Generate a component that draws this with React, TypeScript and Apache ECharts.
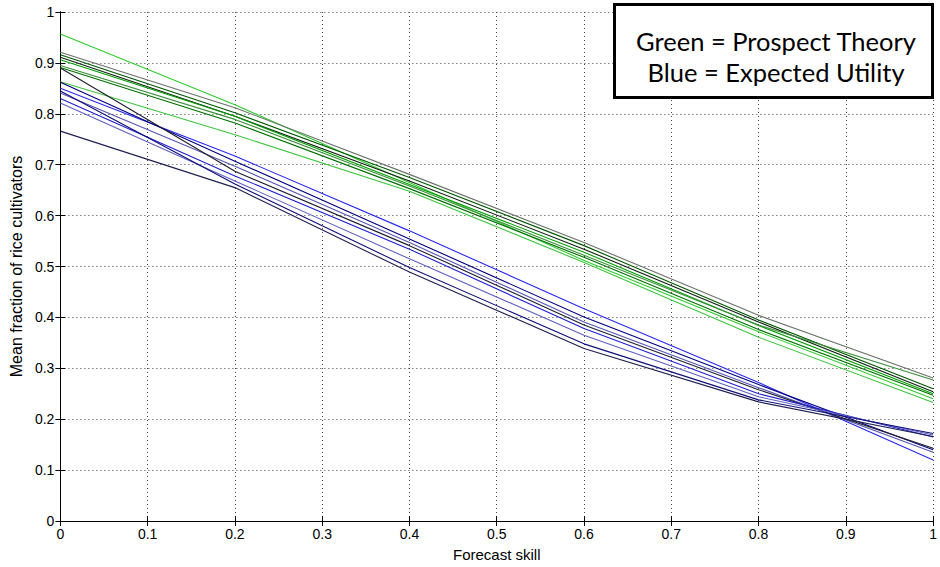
import React, { useEffect, useRef } from "react";
import * as echarts from "echarts";

// Forecast skill positions where values were read
const skill = [0, 0.2, 0.4, 0.6, 0.8, 1];
const xTicks = [0, 0.1, 0.2, 0.3, 0.4, 0.5, 0.6, 0.7, 0.8, 0.9, 1];
const yTicks = [0, 0.1, 0.2, 0.3, 0.4, 0.5, 0.6, 0.7, 0.8, 0.9, 1];

// Prospect Theory runs (green)
const pt1 = [0.957, 0.818, 0.665, 0.512, 0.372, 0.24];
const pt2 = [0.921, 0.812, 0.681, 0.547, 0.404, 0.281];
const pt3 = [0.916, 0.802, 0.675, 0.541, 0.395, 0.26];
const pt4 = [0.911, 0.795, 0.668, 0.534, 0.391, 0.254];
const pt5 = [0.906, 0.795, 0.661, 0.528, 0.384, 0.25];
const pt6 = [0.895, 0.789, 0.658, 0.522, 0.385, 0.277];
const pt7 = [0.891, 0.782, 0.653, 0.518, 0.376, 0.247];
const pt8 = [0.863, 0.759, 0.648, 0.508, 0.361, 0.233];

// Expected Utility runs (blue)
const eu1 = [0.85, 0.717, 0.57, 0.417, 0.272, 0.12];
const eu2 = [0.862, 0.707, 0.554, 0.401, 0.268, 0.14];
const eu3 = [0.841, 0.697, 0.547, 0.391, 0.262, 0.135];
const eu4 = [0.89, 0.687, 0.541, 0.385, 0.258, 0.143];
const eu5 = [0.83, 0.678, 0.534, 0.378, 0.25, 0.165];
const eu6 = [0.821, 0.668, 0.515, 0.365, 0.244, 0.169];
const eu7 = [0.845, 0.662, 0.498, 0.348, 0.238, 0.172];
const eu8 = [0.766, 0.655, 0.489, 0.339, 0.234, 0.166];

const ptRuns = [pt1, pt2, pt3, pt4, pt5, pt6, pt7, pt8];
const euRuns = [eu1, eu2, eu3, eu4, eu5, eu6, eu7, eu8];
const ptColors = ["#2fcc2f", "#6a756a", "#005800", "#102010", "#00a000", "#3f8f3f", "#007000", "#40c440"];
const euColors = ["#2a2aee", "#000080", "#5656b0", "#202030", "#2020d0", "#6060c0", "#10107a", "#202050"];

const fmt = (v: number) => (Math.abs(v) < 1e-9 ? "0" : Math.abs(v - 1) < 1e-9 ? "1" : v.toFixed(1));

export default function App() {
  const ref = useRef<HTMLDivElement>(null);
  useEffect(() => {
    document.body.style.margin = "0";
    const chart = echarts.init(ref.current!, null, { renderer: "svg" });
    const mk = (runs: number[][], colors: string[], prefix: string) =>
      runs.map((r, i) => ({
        name: prefix + (i + 1),
        type: "line",
        data: r.map((v, j) => [skill[j], v]),
        symbol: "none",
        lineStyle: { width: 1.1, color: colors[i] },
        z: 3,
      }));
    const sans = "Arial, 'Liberation Sans', sans-serif";
    const axisFont = { fontFamily: sans, fontSize: 14, color: "#000" };
    const xBase = {
      type: "value",
      min: 0,
      max: 1,
      interval: 0.1,
      axisLine: { lineStyle: { color: "#000", width: 1 } },
      axisTick: { inside: true, length: 5, lineStyle: { color: "#000" } },
    };
    const yBase = {
      type: "value",
      min: 0,
      max: 1,
      interval: 0.1,
      axisLine: { show: true, lineStyle: { color: "#000", width: 1 } },
      axisTick: { show: true, inside: true, length: 5, lineStyle: { color: "#000" } },
    };
    chart.setOption({
      animation: false,
      backgroundColor: "#fff",
      grid: { left: 55, right: 2, top: 12, bottom: 44, containLabel: false },
      xAxis: [
        {
          ...xBase,
          position: "bottom",
          name: "Forecast skill",
          nameLocation: "middle",
          nameGap: 26,
          nameTextStyle: { fontFamily: sans, fontSize: 15, color: "#000" },
          axisLabel: { ...axisFont, margin: 6, formatter: (v: number) => fmt(v) },
          splitLine: { show: true, lineStyle: { color: "#444", type: [1, 3], width: 1 } },
        },
        {
          ...xBase,
          position: "top",
          axisLabel: { show: false },
          splitLine: { show: false },
        },
      ],
      yAxis: [
        {
          ...yBase,
          position: "left",
          name: "Mean fraction of rice cultivators",
          nameLocation: "middle",
          nameGap: 34,
          nameTextStyle: { fontFamily: sans, fontSize: 16, color: "#000" },
          axisLabel: { ...axisFont, margin: 6, formatter: (v: number) => fmt(v) },
          splitLine: { show: true, lineStyle: { color: "#444", type: [1, 3], width: 1 } },
        },
        {
          ...yBase,
          position: "right",
          axisLabel: { show: false },
          splitLine: { show: false },
        },
      ],
      series: [...mk(ptRuns, ptColors, "PT run "), ...mk(euRuns, euColors, "EU run ")],
      graphic: [
        {
          type: "rect",
          shape: { x: 614.5, y: 4.5, width: 318, height: 93 },
          style: { fill: "#fff", stroke: "#000", lineWidth: 3 },
          z: 100,
        },
        {
          type: "text",
          x: 776,
          y: 41,
          style: {
            text: "Green = Prospect Theory",
            fontFamily: "Lato",
            fontSize: 25.5,
            fill: "#000",
            align: "center",
            verticalAlign: "middle",
          },
          z: 101,
        },
        {
          type: "text",
          x: 776,
          y: 72,
          style: {
            text: "Blue = Expected Utility",
            fontFamily: "Lato",
            fontSize: 25.5,
            fill: "#000",
            align: "center",
            verticalAlign: "middle",
          },
          z: 101,
        },
      ],
    });
    return () => chart.dispose();
  }, []);
  return <div ref={ref} style={{ width: 940, height: 567 }} />;
}
